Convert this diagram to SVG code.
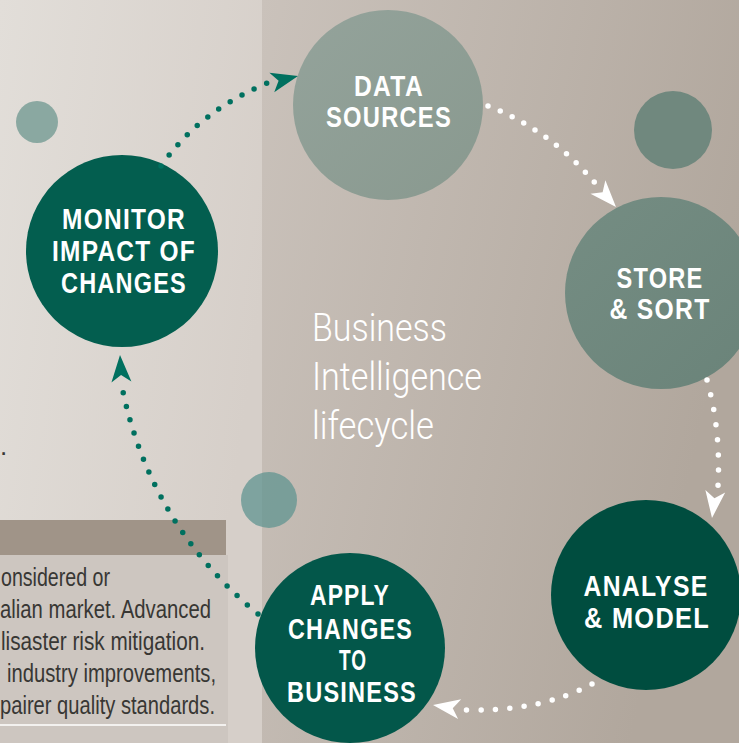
<svg xmlns="http://www.w3.org/2000/svg" width="739" height="743" viewBox="0 0 739 743">
  <defs>
    <linearGradient id="bgLeft" x1="0" y1="0" x2="1" y2="0.4">
      <stop offset="0" stop-color="#e2ded9"/>
      <stop offset="1" stop-color="#d6cfc9"/>
    </linearGradient>
    <linearGradient id="bgRight" x1="0" y1="0" x2="1" y2="0.35">
      <stop offset="0" stop-color="#cac2bb"/>
      <stop offset="1" stop-color="#b1a79d"/>
    </linearGradient>
    <linearGradient id="sage" x1="0" y1="0" x2="1" y2="1">
      <stop offset="0" stop-color="#94a39b"/>
      <stop offset="1" stop-color="#89998f"/>
    </linearGradient>
    <linearGradient id="slate" x1="0" y1="0" x2="1" y2="1">
      <stop offset="0" stop-color="#758d83"/>
      <stop offset="1" stop-color="#6a8379"/>
    </linearGradient>
    <path id="arrowhead" d="M0,0 L-27,-10 L-20,0 L-27,10 Z"/>
    <style>
      .label { font-family: "Liberation Sans", Arial, sans-serif; font-weight: bold; font-size: 29px; letter-spacing: 1.5px; fill: #ffffff; text-anchor: middle; }
      .title { font-family: Roboto, "Liberation Sans", sans-serif; font-weight: 300; font-size: 39px; fill: #ffffff; }
      .body { font-family: "Liberation Sans", Arial, sans-serif; font-size: 26px; fill: #383734; }
      .teal-dots { fill: none; stroke: #00705f; stroke-width: 5.5; stroke-linecap: round; }
      .white-dots { fill: none; stroke: #ffffff; stroke-width: 5.5; stroke-linecap: round; }
      .teal-head { fill: #00705f; }
      .white-head { fill: #ffffff; }
    </style>
  </defs>

  <!-- background panels -->
  <rect x="0" y="0" width="262" height="743" fill="url(#bgLeft)"/>
  <rect x="262" y="0" width="477" height="743" fill="url(#bgRight)"/>

  <!-- side text box -->
  <g id="text-box">
    <text class="body" x="0" y="455">.</text>
    <rect x="0" y="520" width="226" height="35" fill="#a09488"/>
    <rect x="0" y="555" width="228" height="188" fill="#cdc6c0"/>
    <text class="body" x="1" y="586" textLength="109" lengthAdjust="spacingAndGlyphs">onsidered or</text>
    <text class="body" x="0" y="618" textLength="211" lengthAdjust="spacingAndGlyphs">alian market. Advanced</text>
    <text class="body" x="1" y="650" textLength="204" lengthAdjust="spacingAndGlyphs">lisaster risk mitigation.</text>
    <text class="body" x="7" y="682" textLength="209" lengthAdjust="spacingAndGlyphs">industry improvements,</text>
    <text class="body" x="0" y="714" textLength="215" lengthAdjust="spacingAndGlyphs">pairer quality standards.</text>
    <line x1="0" y1="725" x2="226" y2="725" stroke="#ffffff" stroke-width="1.5"/>
  </g>

  <!-- decorative dots -->
  <g id="accents">
    <circle cx="37" cy="122" r="21" fill="#8aa8a1"/>
    <circle cx="673" cy="130" r="39" fill="#70887e"/>
    <circle cx="269" cy="500" r="28" fill="#609490" fill-opacity="0.75"/>
  </g>

  <!-- centre title -->
  <g id="title">
    <text class="title" x="312" y="341" textLength="135" lengthAdjust="spacingAndGlyphs">Business</text>
    <text class="title" x="312" y="390" textLength="170" lengthAdjust="spacingAndGlyphs">Intelligence</text>
    <text class="title" x="312" y="439" textLength="122" lengthAdjust="spacingAndGlyphs">lifecycle</text>
  </g>

  <!-- lifecycle stages -->
  <g id="data-sources">
    <circle cx="388" cy="105" r="95" fill="url(#sage)"/>
    <text class="label" x="389" y="96" textLength="70" lengthAdjust="spacingAndGlyphs">DATA</text>
    <text class="label" x="389" y="127" textLength="126" lengthAdjust="spacingAndGlyphs">SOURCES</text>
  </g>

  <g id="store-sort">
    <circle cx="661" cy="293" r="96" fill="url(#slate)"/>
    <text class="label" x="660" y="288" textLength="87" lengthAdjust="spacingAndGlyphs">STORE</text>
    <text class="label" x="660" y="319" textLength="101" lengthAdjust="spacingAndGlyphs">&amp; SORT</text>
  </g>

  <g id="analyse-model">
    <circle cx="646" cy="595" r="95" fill="#004d3f"/>
    <text class="label" x="646" y="596" textLength="125" lengthAdjust="spacingAndGlyphs">ANALYSE</text>
    <text class="label" x="647" y="628" textLength="126" lengthAdjust="spacingAndGlyphs">&amp; MODEL</text>
  </g>

  <g id="apply-changes">
    <circle cx="350" cy="648" r="95" fill="#03574a"/>
    <text class="label" x="350" y="605" textLength="80" lengthAdjust="spacingAndGlyphs">APPLY</text>
    <text class="label" x="350.5" y="639" textLength="125" lengthAdjust="spacingAndGlyphs">CHANGES</text>
    <text class="label" x="353" y="670" textLength="28" lengthAdjust="spacingAndGlyphs">TO</text>
    <text class="label" x="352" y="702" textLength="130" lengthAdjust="spacingAndGlyphs">BUSINESS</text>
  </g>

  <g id="monitor-impact">
    <circle cx="122" cy="251" r="96" fill="#035e4f"/>
    <text class="label" x="124" y="229" textLength="124" lengthAdjust="spacingAndGlyphs">MONITOR</text>
    <text class="label" x="124" y="261" textLength="144" lengthAdjust="spacingAndGlyphs">IMPACT OF</text>
    <text class="label" x="124" y="293" textLength="126" lengthAdjust="spacingAndGlyphs">CHANGES</text>
  </g>

  <!-- dotted connectors with arrowheads -->
  <g id="connectors">
    <path class="teal-dots" d="M161,166 Q200,110 270,82" stroke-dasharray="0 13.6"/>
    <use href="#arrowhead" class="teal-head" transform="translate(298,76) rotate(-14)"/>

    <path class="white-dots" d="M488,106 Q550,130 595,183" stroke-dasharray="0 13.2"/>
    <use href="#arrowhead" class="white-head" transform="translate(616,207) rotate(48)"/>

    <path class="white-dots" d="M707,380 Q721,430 718,486" stroke-dasharray="0 15.2"/>
    <use href="#arrowhead" class="white-head" transform="translate(712,518) rotate(97)"/>

    <path class="white-dots" d="M592,684 Q540,712 465,710" stroke-dasharray="0 14.4"/>
    <use href="#arrowhead" class="white-head" transform="translate(433,705) rotate(189)"/>

    <path class="teal-dots" d="M258,614 Q150,525 122,387" stroke-dasharray="0 13.9"/>
    <use href="#arrowhead" class="teal-head" transform="translate(120,355) rotate(-93)"/>
  </g>
</svg>
